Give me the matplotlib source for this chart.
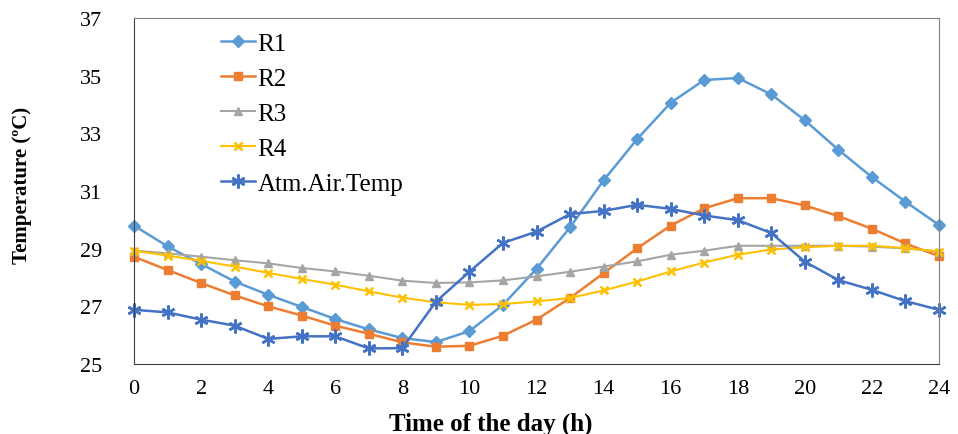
import matplotlib
matplotlib.use("Agg")
import matplotlib.pyplot as plt

hours = list(range(25))
r1 = [29.8, 29.08, 28.47, 27.86, 27.4, 26.98, 26.56, 26.2, 25.9, 25.76, 26.14, 27.05, 28.3,
      29.74, 31.37, 32.8, 34.06, 34.85, 34.92, 34.35, 33.45, 32.43, 31.48, 30.63, 29.82]
r2 = [28.72, 28.26, 27.81, 27.38, 27.0, 26.68, 26.33, 26.05, 25.75, 25.6, 25.63, 25.98, 26.54,
      27.29, 28.15, 29.01, 29.8, 30.4, 30.75, 30.75, 30.5, 30.13, 29.69, 29.18, 28.74]
r3 = [28.93, 28.84, 28.72, 28.6, 28.49, 28.33, 28.21, 28.06, 27.89, 27.81, 27.83, 27.9, 28.04,
      28.2, 28.38, 28.56, 28.79, 28.93, 29.1, 29.1, 29.1, 29.1, 29.07, 29.01, 28.9]
r4 = [28.93, 28.76, 28.58, 28.38, 28.16, 27.95, 27.75, 27.52, 27.3, 27.14, 27.05, 27.08, 27.17,
      27.29, 27.55, 27.86, 28.21, 28.52, 28.79, 28.97, 29.05, 29.1, 29.1, 29.02, 28.9]
atm = [26.88, 26.79, 26.54, 26.33, 25.87, 25.96, 25.96, 25.54, 25.55, 27.16, 28.2, 29.2, 29.59,
       30.2, 30.31, 30.52, 30.38, 30.15, 29.99, 29.54, 28.55, 27.91, 27.57, 27.18, 26.88]

x_ticks = list(range(0, 25, 2))
y_ticks = [25, 27, 29, 31, 33, 35, 37]

plt.rcParams['font.family'] = ['Liberation Serif', 'DejaVu Serif']

fig = plt.figure(figsize=(9.58, 4.35), dpi=100)
ax = fig.add_axes([134/958, 1-365/435, (939-134)/958, (365-19)/435])

series = [
    ("R1", r1, "#5B9BD5", "D", 6, 1.8),
    ("R2", r2, "#ED7D31", "s", 5.5, 1.8),
    ("R3", r3, "#A5A5A5", "^", 6, 1.5),
    ("R4", r4, "#FFC000", "x", 6, 1.5),
    ("Atm.Air.Temp", atm, "#4472C4", (6, 2, 0), 10, 1.8),
]
for name, vals, col, mk, ms, lw in series:
    ax.plot(hours, vals, color=col, marker=mk, markersize=ms, linewidth=lw,
            markeredgewidth=1.8 if mk in ("x",) or isinstance(mk, tuple) else 1,
            label=name, clip_on=False)

ax.set_xlim(0, 24)
ax.set_ylim(25, 37)
ax.set_xticks(x_ticks)
ax.set_yticks(y_ticks)
ax.tick_params(axis='both', length=0, labelsize=16)
ax.tick_params(axis='y', pad=23)
ax.tick_params(axis='x', pad=11)
for s in ['top', 'right']:
    ax.spines[s].set_color('#808080')
for s in ['left', 'bottom']:
    ax.spines[s].set_color('#404040')

leg = ax.legend(loc='upper left', bbox_to_anchor=(0.108, 0.958), frameon=False,
                fontsize=18, handlelength=1.35, handletextpad=0.12, labelspacing=0.5,
                borderpad=0, borderaxespad=0)

fig.text(491/958, 1-424/435, "Time of the day (h)", ha='center', va='center',
         fontsize=18, fontweight='bold')
fig.text(22/958, 1-185/435, "Temperature (ºC)", ha='center', va='center',
         rotation=90, fontsize=15, fontweight='bold')

fig.savefig("out.png", dpi=100)
